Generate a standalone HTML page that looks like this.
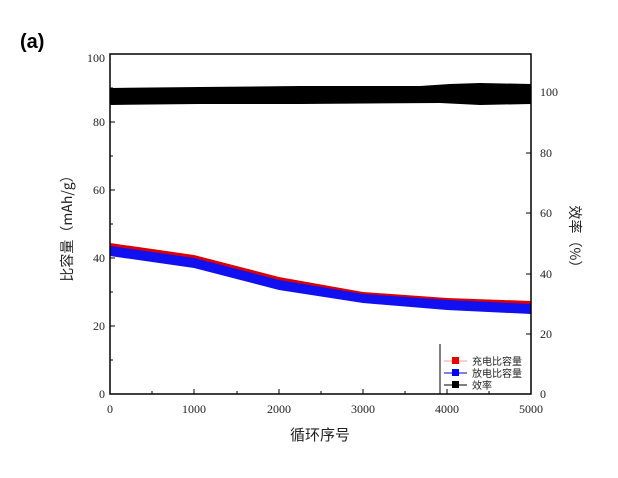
<!DOCTYPE html>
<html><head><meta charset="utf-8"><style>
body{margin:0;background:#fff;width:618px;height:473px;overflow:hidden}
text{font-family:"Liberation Serif","Noto Serif CJK SC",serif;font-size:12px;fill:#222}
.cjk{font-family:"Noto Sans CJK SC",sans-serif}
</style></head><body>
<svg width="618" height="473" viewBox="0 0 618 473" xmlns="http://www.w3.org/2000/svg">
<text x="20" y="48" style="font-family:'Liberation Sans',sans-serif;font-weight:bold;font-size:20px;fill:#000">(a)</text>
<path d="M110,88 L200,87 L300,86 L420,86 L450,84 L480,83 L531,84 L531,104 L480,105 L440,103 L300,104 L200,104 L110,105 Z" fill="#000"/>
<path d="M110,243 L194,255 L279,277 L363,292 L447,298 L531,301 L531,306 L447,303 L363,296 L279,281 L194,260 L110,248 Z" fill="#d00"/>
<path d="M110,246 L194,258 L279,280 L363,294 L447,300 L531,304 L531,314 L447,310 L363,303 L279,290 L194,268 L110,256 Z" fill="#1010f0"/>
<rect x="110" y="54" width="421" height="340" fill="none" stroke="#000" stroke-width="1.5"/>
<g stroke="#000" stroke-width="1">
<line x1="110" y1="122" x2="115" y2="122"/><line x1="110" y1="190" x2="115" y2="190"/><line x1="110" y1="258" x2="115" y2="258"/><line x1="110" y1="326" x2="115" y2="326"/>
<line x1="110" y1="88" x2="113" y2="88"/><line x1="110" y1="156" x2="113" y2="156"/><line x1="110" y1="224" x2="113" y2="224"/><line x1="110" y1="292" x2="113" y2="292"/><line x1="110" y1="360" x2="113" y2="360"/>
<line x1="531" y1="92" x2="526" y2="92"/><line x1="531" y1="153" x2="526" y2="153"/><line x1="531" y1="213" x2="526" y2="213"/><line x1="531" y1="274" x2="526" y2="274"/><line x1="531" y1="334" x2="526" y2="334"/>
<line x1="194" y1="394" x2="194" y2="389"/><line x1="279" y1="394" x2="279" y2="389"/><line x1="363" y1="394" x2="363" y2="389"/><line x1="447" y1="394" x2="447" y2="389"/>
<line x1="152" y1="394" x2="152" y2="391"/><line x1="237" y1="394" x2="237" y2="391"/><line x1="321" y1="394" x2="321" y2="391"/><line x1="405" y1="394" x2="405" y2="391"/><line x1="489" y1="394" x2="489" y2="391"/>
<line x1="440" y1="344" x2="440" y2="394"/>
</g>
<g text-anchor="end">
<text x="105" y="62">100</text><text x="105" y="126">80</text><text x="105" y="194">60</text><text x="105" y="262">40</text><text x="105" y="330">20</text><text x="105" y="398">0</text>
</g>
<g>
<text x="540" y="96">100</text><text x="540" y="157">80</text><text x="540" y="217">60</text><text x="540" y="278">40</text><text x="540" y="338">20</text><text x="540" y="398">0</text>
</g>
<g text-anchor="middle">
<text x="110" y="413">0</text><text x="194" y="413">1000</text><text x="279" y="413">2000</text><text x="363" y="413">3000</text><text x="447" y="413">4000</text><text x="531" y="413">5000</text>
</g>
<text class="cjk" x="320" y="440" text-anchor="middle" style="font-size:15px">循环序号</text>
<text class="cjk" transform="translate(72,225) rotate(-90)" text-anchor="middle" style="font-size:14px">比容量（mAh/g）</text>
<text class="cjk" transform="translate(570,240) rotate(90)" text-anchor="middle" style="font-size:14px">效率（%）</text>
<g>
<line x1="444" y1="361" x2="467" y2="361" stroke="#f99"/><rect x="452" y="357" width="7" height="7" fill="#e00"/>
<text class="cjk" x="472" y="365" style="font-size:10px">充电比容量</text>
<line x1="444" y1="373" x2="467" y2="373" stroke="#00c"/><rect x="452" y="369" width="7" height="7" fill="#00f"/>
<text class="cjk" x="472" y="377" style="font-size:10px">放电比容量</text>
<line x1="444" y1="385" x2="467" y2="385" stroke="#000"/><rect x="452" y="381" width="7" height="7" fill="#000"/>
<text class="cjk" x="472" y="389" style="font-size:10px">效率</text>
</g>
</svg>
</body></html>
